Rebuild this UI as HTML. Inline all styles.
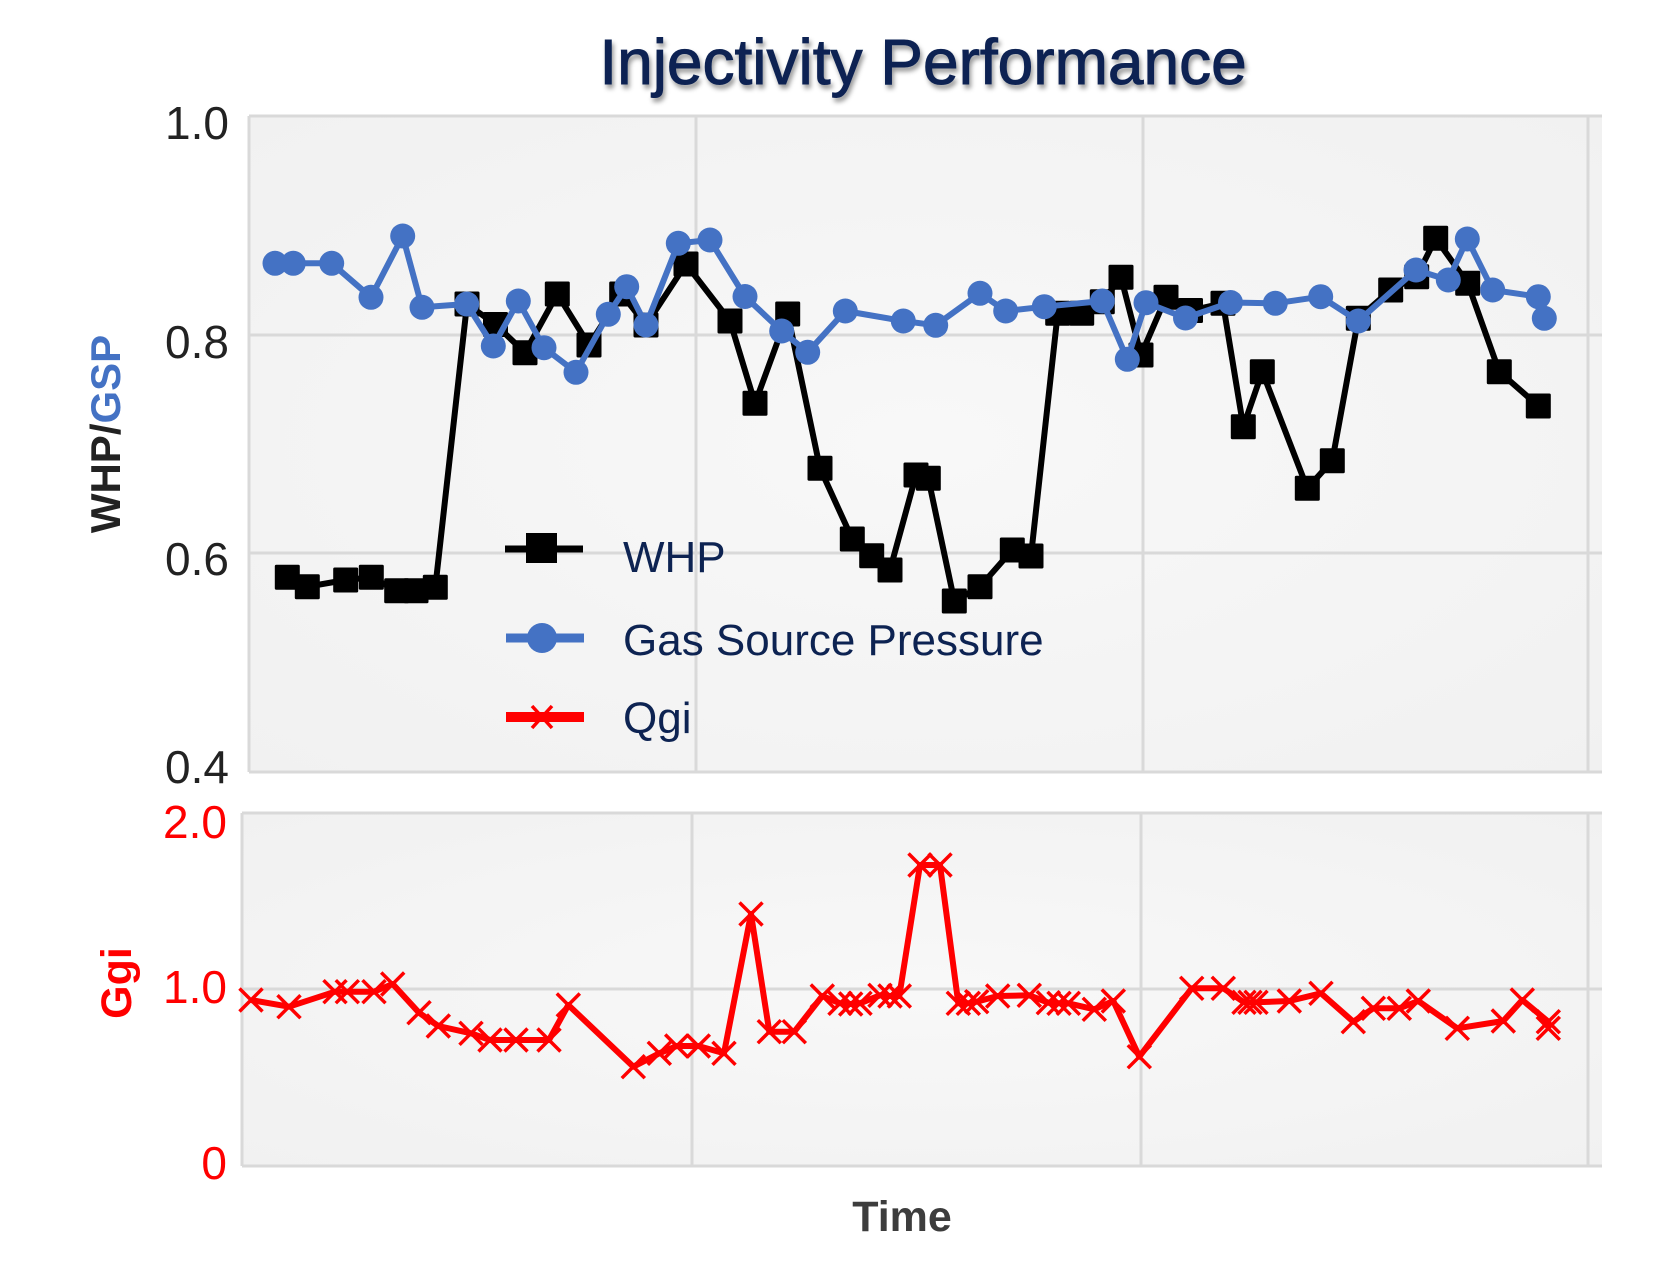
<!DOCTYPE html>
<html><head><meta charset="utf-8">
<style>
html,body{margin:0;padding:0;background:#fff;}
svg{display:block;}
text{font-family:"Liberation Sans",Arial,sans-serif;}
</style></head>
<body>
<svg width="1671" height="1272" viewBox="0 0 1671 1272" xmlns="http://www.w3.org/2000/svg">
<defs>
<radialGradient id="bg" cx="0.5" cy="0.5" r="0.7">
<stop offset="0" stop-color="#f8f8f8"/>
<stop offset="1" stop-color="#f1f1f1"/>
</radialGradient>
<filter id="sh" x="-5%" y="-20%" width="110%" height="150%">
<feDropShadow dx="2" dy="4" stdDeviation="2.5" flood-color="#000" flood-opacity="0.4"/>
</filter>
<path id="xm" d="M-11.5,-11.5 L11.5,11.5 M-11.5,11.5 L11.5,-11.5" stroke="#ff0000" stroke-width="3.5" fill="none"/>
<rect id="sq" x="-12.5" y="-12.5" width="25" height="25" rx="1.5" fill="#000"/>
<circle id="ci" cx="0" cy="0" r="12.5" fill="#4472c4"/>
</defs>

<text x="923" y="84" font-size="64" fill="#0d2352" stroke="#0d2352" stroke-width="1" text-anchor="middle" filter="url(#sh)">Injectivity Performance</text>

<rect x="249" y="116" width="1353" height="656" fill="url(#bg)"/>
<g stroke="#d9d9d9" stroke-width="3" fill="none">
<line x1="249" y1="335" x2="1602" y2="335"/>
<line x1="249" y1="553" x2="1602" y2="553"/>
<line x1="696" y1="116" x2="696" y2="772"/>
<line x1="1143" y1="116" x2="1143" y2="772"/>
<line x1="1588" y1="116" x2="1588" y2="772"/>
<line x1="249" y1="116" x2="1602" y2="116"/>
<line x1="249" y1="772" x2="1602" y2="772"/>
<line x1="249" y1="116" x2="249" y2="772"/>
</g>

<g font-size="46" fill="#222" text-anchor="end">
<text x="229" y="139">1.0</text>
<text x="229" y="358">0.8</text>
<text x="229" y="575">0.6</text>
<text x="229" y="783">0.4</text>
</g>

<text transform="translate(120,434) rotate(-90)" font-size="42" font-weight="bold" text-anchor="middle"><tspan fill="#222">WHP/</tspan><tspan fill="#4472c4">GSP</tspan></text>

<polyline fill="none" stroke="#000" stroke-width="6" stroke-linejoin="round" points="287.3,577.3 307.3,586.7 345.7,580 371.3,577.3 396.7,590.7 416,590.7 435.3,587.3 467,304 495.5,324.5 525,352.7 557.3,294 589,345 621.7,294 646,325 686,264 730,321 755,403.3 787.7,314 820,468.3 852.3,539 871.7,555.7 890,570 916,475 928.3,478.3 954.3,601 980,586.7 1012.3,550 1031,556 1057.7,313.3 1081.7,313.3 1102.3,301.7 1121,277.3 1141,355 1166,297.3 1190.5,310.5 1223,303.3 1243.3,426.7 1262.3,371.7 1307.3,488.3 1332.3,460.7 1358.3,318.3 1390.7,290 1416.7,276.7 1435.7,238.3 1467.7,283.3 1499.3,371.7 1538.3,406"/>
<g>
<use href="#sq" x="287.3" y="577.3"/><use href="#sq" x="307.3" y="586.7"/><use href="#sq" x="345.7" y="580"/><use href="#sq" x="371.3" y="577.3"/><use href="#sq" x="396.7" y="590.7"/><use href="#sq" x="416" y="590.7"/><use href="#sq" x="435.3" y="587.3"/><use href="#sq" x="467" y="304"/><use href="#sq" x="495.5" y="324.5"/><use href="#sq" x="525" y="352.7"/><use href="#sq" x="557.3" y="294"/><use href="#sq" x="589" y="345"/><use href="#sq" x="621.7" y="294"/><use href="#sq" x="646" y="325"/><use href="#sq" x="686" y="264"/><use href="#sq" x="730" y="321"/><use href="#sq" x="755" y="403.3"/><use href="#sq" x="787.7" y="314"/><use href="#sq" x="820" y="468.3"/><use href="#sq" x="852.3" y="539"/><use href="#sq" x="871.7" y="555.7"/><use href="#sq" x="890" y="570"/><use href="#sq" x="916" y="475"/><use href="#sq" x="928.3" y="478.3"/><use href="#sq" x="954.3" y="601"/><use href="#sq" x="980" y="586.7"/><use href="#sq" x="1012.3" y="550"/><use href="#sq" x="1031" y="556"/><use href="#sq" x="1057.7" y="313.3"/><use href="#sq" x="1081.7" y="313.3"/><use href="#sq" x="1102.3" y="301.7"/><use href="#sq" x="1121" y="277.3"/><use href="#sq" x="1141" y="355"/><use href="#sq" x="1166" y="297.3"/><use href="#sq" x="1190.5" y="310.5"/><use href="#sq" x="1223" y="303.3"/><use href="#sq" x="1243.3" y="426.7"/><use href="#sq" x="1262.3" y="371.7"/><use href="#sq" x="1307.3" y="488.3"/><use href="#sq" x="1332.3" y="460.7"/><use href="#sq" x="1358.3" y="318.3"/><use href="#sq" x="1390.7" y="290"/><use href="#sq" x="1416.7" y="276.7"/><use href="#sq" x="1435.7" y="238.3"/><use href="#sq" x="1467.7" y="283.3"/><use href="#sq" x="1499.3" y="371.7"/><use href="#sq" x="1538.3" y="406"/>
</g>

<polyline fill="none" stroke="#4472c4" stroke-width="6" stroke-linejoin="round" points="275,263.3 293.3,263.3 331.7,263.3 371,297.3 402.7,236 422,307.3 466.7,304 493.3,346 518.3,301 544,347.7 576,372.3 608.3,314.3 626.7,286.7 646,325 678.3,243.3 710,240 745,296.5 781.7,331 807.7,352.3 845.3,311 903.3,321 935.7,325.3 980,293.3 1005.7,311 1044.3,306.7 1102.3,301 1127.3,359.3 1146,302.7 1185.5,318 1230.5,302.5 1275.3,303.3 1320.7,296.7 1358.3,321 1416,270 1448.3,280 1467.3,239 1492.7,290 1538.3,296.7 1544.3,318.3"/>
<g>
<use href="#ci" x="275" y="263.3"/><use href="#ci" x="293.3" y="263.3"/><use href="#ci" x="331.7" y="263.3"/><use href="#ci" x="371" y="297.3"/><use href="#ci" x="402.7" y="236"/><use href="#ci" x="422" y="307.3"/><use href="#ci" x="466.7" y="304"/><use href="#ci" x="493.3" y="346"/><use href="#ci" x="518.3" y="301"/><use href="#ci" x="544" y="347.7"/><use href="#ci" x="576" y="372.3"/><use href="#ci" x="608.3" y="314.3"/><use href="#ci" x="626.7" y="286.7"/><use href="#ci" x="646" y="325"/><use href="#ci" x="678.3" y="243.3"/><use href="#ci" x="710" y="240"/><use href="#ci" x="745" y="296.5"/><use href="#ci" x="781.7" y="331"/><use href="#ci" x="807.7" y="352.3"/><use href="#ci" x="845.3" y="311"/><use href="#ci" x="903.3" y="321"/><use href="#ci" x="935.7" y="325.3"/><use href="#ci" x="980" y="293.3"/><use href="#ci" x="1005.7" y="311"/><use href="#ci" x="1044.3" y="306.7"/><use href="#ci" x="1102.3" y="301"/><use href="#ci" x="1127.3" y="359.3"/><use href="#ci" x="1146" y="302.7"/><use href="#ci" x="1185.5" y="318"/><use href="#ci" x="1230.5" y="302.5"/><use href="#ci" x="1275.3" y="303.3"/><use href="#ci" x="1320.7" y="296.7"/><use href="#ci" x="1358.3" y="321"/><use href="#ci" x="1416" y="270"/><use href="#ci" x="1448.3" y="280"/><use href="#ci" x="1467.3" y="239"/><use href="#ci" x="1492.7" y="290"/><use href="#ci" x="1538.3" y="296.7"/><use href="#ci" x="1544.3" y="318.3"/>
</g>

<line x1="505" y1="549" x2="583" y2="549" stroke="#000" stroke-width="7"/>
<rect x="526" y="533" width="31" height="30" fill="#000"/>
<line x1="506" y1="638" x2="584" y2="638" stroke="#4472c4" stroke-width="9"/>
<circle cx="542" cy="638" r="15" fill="#4472c4"/>
<line x1="506" y1="717" x2="584" y2="717" stroke="#ff0000" stroke-width="10"/>
<path d="M532,706 L552,728 M532,728 L552,706" stroke="#ff0000" stroke-width="3.5"/>
<g font-size="44" fill="#0d2352">
<text x="623" y="572">WHP</text>
<text x="623" y="655">Gas Source Pressure</text>
<text x="623" y="733">Qgi</text>
</g>

<rect x="242" y="813" width="1360" height="353" fill="url(#bg)"/>
<g stroke="#d9d9d9" stroke-width="3" fill="none">
<line x1="242" y1="989" x2="1602" y2="989"/>
<line x1="692" y1="813" x2="692" y2="1166"/>
<line x1="1141" y1="813" x2="1141" y2="1166"/>
<line x1="1588" y1="813" x2="1588" y2="1166"/>
<line x1="242" y1="813" x2="1602" y2="813"/>
<line x1="242" y1="1166" x2="1602" y2="1166"/>
<line x1="242" y1="813" x2="242" y2="1166"/>
</g>
<g font-size="46" fill="#ff0000" text-anchor="end">
<text x="227" y="838">2.0</text>
<text x="227" y="1003">1.0</text>
<text x="227" y="1179">0</text>
</g>
<text transform="translate(131,983) rotate(-90)" font-size="43" font-weight="bold" fill="#ff0000" text-anchor="middle">Ggi</text>

<polyline fill="none" stroke="#ff0000" stroke-width="6" stroke-linejoin="round" points="251,1000 289,1006.7 335,991.7 347.3,991.7 374,991.7 392.7,984 419,1012.7 438.3,1026 471,1033.3 490,1040 516,1040 549,1040 568.3,1005 633.3,1066.7 659.3,1053.3 676.7,1046 698.3,1046 724,1053.3 751,914 769.3,1031.7 794.3,1031.7 822.3,996 840,1003.3 850.7,1004 860,1003.3 880,995.3 890,996 899.3,996 920,865 940,865 958.3,1003.3 968.3,1003.3 976.7,1001.7 997.7,996 1029.3,995.3 1048.3,1002.7 1059,1003.3 1068.3,1003.3 1094.3,1009.3 1113.3,1001 1139.3,1056.7 1191.7,988.3 1223.3,988.3 1244,1002.3 1250,1002.3 1256,1002.3 1289.3,1001 1321,993.3 1353.3,1021.7 1373.3,1008.3 1399.3,1008.3 1418.3,1001 1457.3,1028.3 1503.3,1021 1522.3,1000 1548.3,1021.7 1548.3,1028.3"/>
<g>
<use href="#xm" x="251" y="1000"/><use href="#xm" x="289" y="1006.7"/><use href="#xm" x="335" y="991.7"/><use href="#xm" x="347.3" y="991.7"/><use href="#xm" x="374" y="991.7"/><use href="#xm" x="392.7" y="984"/><use href="#xm" x="419" y="1012.7"/><use href="#xm" x="438.3" y="1026"/><use href="#xm" x="471" y="1033.3"/><use href="#xm" x="490" y="1040"/><use href="#xm" x="516" y="1040"/><use href="#xm" x="549" y="1040"/><use href="#xm" x="568.3" y="1005"/><use href="#xm" x="633.3" y="1066.7"/><use href="#xm" x="659.3" y="1053.3"/><use href="#xm" x="676.7" y="1046"/><use href="#xm" x="698.3" y="1046"/><use href="#xm" x="724" y="1053.3"/><use href="#xm" x="751" y="914"/><use href="#xm" x="769.3" y="1031.7"/><use href="#xm" x="794.3" y="1031.7"/><use href="#xm" x="822.3" y="996"/><use href="#xm" x="840" y="1003.3"/><use href="#xm" x="850.7" y="1004"/><use href="#xm" x="860" y="1003.3"/><use href="#xm" x="880" y="995.3"/><use href="#xm" x="890" y="996"/><use href="#xm" x="899.3" y="996"/><use href="#xm" x="920" y="865"/><use href="#xm" x="940" y="865"/><use href="#xm" x="958.3" y="1003.3"/><use href="#xm" x="968.3" y="1003.3"/><use href="#xm" x="976.7" y="1001.7"/><use href="#xm" x="997.7" y="996"/><use href="#xm" x="1029.3" y="995.3"/><use href="#xm" x="1048.3" y="1002.7"/><use href="#xm" x="1059" y="1003.3"/><use href="#xm" x="1068.3" y="1003.3"/><use href="#xm" x="1094.3" y="1009.3"/><use href="#xm" x="1113.3" y="1001"/><use href="#xm" x="1139.3" y="1056.7"/><use href="#xm" x="1191.7" y="988.3"/><use href="#xm" x="1223.3" y="988.3"/><use href="#xm" x="1244" y="1002.3"/><use href="#xm" x="1250" y="1002.3"/><use href="#xm" x="1256" y="1002.3"/><use href="#xm" x="1289.3" y="1001"/><use href="#xm" x="1321" y="993.3"/><use href="#xm" x="1353.3" y="1021.7"/><use href="#xm" x="1373.3" y="1008.3"/><use href="#xm" x="1399.3" y="1008.3"/><use href="#xm" x="1418.3" y="1001"/><use href="#xm" x="1457.3" y="1028.3"/><use href="#xm" x="1503.3" y="1021"/><use href="#xm" x="1522.3" y="1000"/><use href="#xm" x="1548.3" y="1021.7"/><use href="#xm" x="1548.3" y="1028.3"/>
</g>

<text x="902" y="1231" font-size="43" font-weight="bold" fill="#3d3d3d" text-anchor="middle">Time</text>
</svg>
</body></html>
